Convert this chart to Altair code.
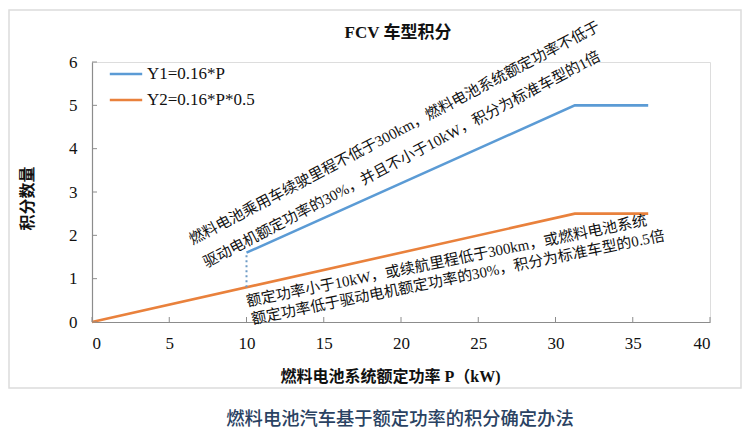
import altair as alt
import pandas as pd

# ---------------- data ----------------
series_names = ["Y1=0.16*P", "Y2=0.16*P*0.5"]
y1_p = [10, 31.25, 36]
y1_v = [1.6, 5, 5]
y2_p = [0, 31.25, 36]
y2_v = [0, 2.5, 2.5]
dotted_p = [10, 10]
dotted_v = [0.8, 1.6]
x_ticks = [0, 5, 10, 15, 20, 25, 30, 35, 40]
y_ticks = [0, 1, 2, 3, 4, 5, 6]

note1_lines = ["燃料电池乘用车续驶里程不低于300km，燃料电池系统额定功率不低于",
               "驱动电机额定功率的30%，并且不小于10kW，积分为标准车型的1倍"]
note1_p = [6.36, 7.26]
note1_v = [1.88, 1.35]
note2_lines = ["额定功率小于10kW，或续航里程低于300km，或燃料电池系统",
               "额定功率低于驱动电机额定功率的30%，积分为标准车型的0.5倍"]
note2_p = [10.0, 10.33]
note2_v = [0.47, 0.06]

title_text = "FCV 车型积分"
x_title = "燃料电池系统额定功率 P（kW)"
y_title = "积分数量"
caption_text = "燃料电池汽车基于额定功率的积分确定办法"

# ---------------- styles ----------------
BLUE = "#5b9bd5"
ORANGE = "#e9813c"
GRAY = "#8c8c8c"
MIX = "Liberation Serif, Noto Sans CJK SC"
CJK = "Noto Sans CJK SC"
W, H = 618, 260

lines_df = pd.DataFrame(
    {"P": y1_p + y2_p,
     "V": y1_v + y2_v,
     "series": [series_names[0]] * len(y1_p) + [series_names[1]] * len(y2_p),
     "order": list(range(len(y1_p))) + list(range(len(y2_p)))}
)

xs = alt.Scale(domain=[0, 40], nice=False, zero=False)
ys = alt.Scale(domain=[0, 6], nice=False, zero=False)

lines = alt.Chart(lines_df).mark_line(strokeWidth=2.6, clip=False).encode(
    x=alt.X("P:Q", scale=xs,
            axis=alt.Axis(values=x_ticks, title=x_title, grid=False, ticks=False, tickSize=0,
                          domainColor=GRAY, domainWidth=1.2,
                          labelFont="Liberation Serif", labelFontSize=17, labelColor="#111",
                          labelPadding=21, labelBaseline="middle",
                          titleFont=MIX, titleFontSize=16, titleFontWeight="bold",
                          titleColor="#111", titleX=298, titleY=54,
                          titleBaseline="middle", titleAlign="center")),
    y=alt.Y("V:Q", scale=ys,
            axis=alt.Axis(values=y_ticks, title=y_title, grid=False, ticks=False, tickSize=0,
                          domainColor=GRAY, domainWidth=1.2,
                          labelFont="Liberation Serif", labelFontSize=17, labelColor="#111",
                          labelPadding=15, labelBaseline="middle",
                          titleFont=CJK, titleFontSize=16, titleFontWeight="bold",
                          titleColor="#111", titleX=-65, titleY=136, titleAngle=270,
                          titleBaseline="middle", titleAlign="center")),
    color=alt.Color("series:N",
                    scale=alt.Scale(domain=series_names, range=[BLUE, ORANGE]),
                    legend=alt.Legend(title=None, orient="none", legendX=16, legendY=-6,
                                      symbolType="stroke", symbolSize=1050,
                                      symbolStrokeWidth=2.6, labelFont="Liberation Serif",
                                      labelFontSize=17, labelColor="#111", labelOffset=3,
                                      rowPadding=0, padding=0)),
    order="order:Q",
)

dotted_df = pd.DataFrame({"P": dotted_p, "V": dotted_v})
dotted = alt.Chart(dotted_df).mark_line(color="#6f9cc6", strokeWidth=2, strokeDash=[2, 3]).encode(
    x="P:Q", y="V:Q"
)

xt_df = pd.DataFrame({"P": x_ticks})
xtick = alt.Chart(xt_df).mark_rule(color=GRAY, strokeWidth=1).encode(
    x="P:Q", y=alt.value(H - 5), y2=alt.value(H)
)
yt_df = pd.DataFrame({"V": y_ticks})
ytick = alt.Chart(yt_df).mark_rule(color=GRAY, strokeWidth=1).encode(
    y="V:Q", x=alt.value(0), x2=alt.value(5)
)

n1_df = pd.DataFrame({"P": note1_p, "V": note1_v, "t": note1_lines})
note1 = alt.Chart(n1_df).mark_text(angle=332.2, align="left", baseline="middle",
                                   font=MIX, fontSize=15, color="#111").encode(
    x="P:Q", y="V:Q", text="t:N"
)
n2_df = pd.DataFrame({"P": note2_p, "V": note2_v, "t": note2_lines})
note2 = alt.Chart(n2_df).mark_text(angle=348.5, align="left", baseline="middle",
                                   font=MIX, fontSize=15, color="#111").encode(
    x="P:Q", y="V:Q", text="t:N"
)

one = pd.DataFrame({"k": [0]})
border = alt.Chart(one).mark_rect(filled=False, stroke="#dcdcdc", strokeWidth=1.5).encode(
    x=alt.value(-83), x2=alt.value(649), y=alt.value(-52), y2=alt.value(326)
)
title = alt.Chart(one).mark_text(font=MIX, fontSize=17, fontWeight="bold", color="#111",
                                 align="center", baseline="middle").encode(
    x=alt.value(306), y=alt.value(-29), text=alt.value(title_text)
)
caption = alt.Chart(one).mark_text(font=CJK, fontSize=18.3, fontWeight=500, color="#2a4262",
                                   align="center", baseline="middle").encode(
    x=alt.value(308), y=alt.value(358), text=alt.value(caption_text)
)

chart = alt.layer(border, lines, dotted, xtick, ytick, note1, note2, title, caption).properties(
    width=W, height=H,
    autosize=alt.AutoSizeParams(type="none"),
    padding={"left": 84, "top": 54, "right": 32, "bottom": 109},
).configure_view(stroke=None).configure(background="white")

chart.save("out.html", embed_options={"renderer": "svg", "actions": False})
